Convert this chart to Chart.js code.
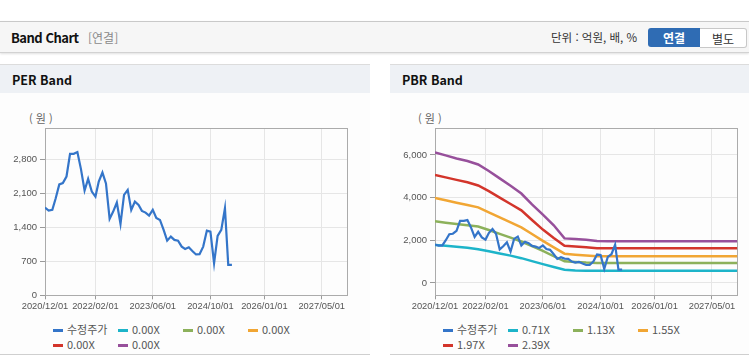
<!DOCTYPE html>
<html lang="ko">
<head>
<meta charset="UTF-8">
<title>Band Chart</title>
<script src="https://cdn.jsdelivr.net/npm/chart.js@4.4.1/dist/chart.umd.min.js"></script>
<style>
    body { margin: 0; width: 749px; height: 364px; background: #fff; position: relative; overflow: hidden;
        font-family: "Noto Sans CJK KR", "Liberation Sans", sans-serif; }
    .top { position: absolute; left: 0; top: 21px; width: 749px; height: 30px; background: #f6f6f6;
        border-top: 1px solid #c9c9c9; border-bottom: 1px solid #d2d2d2; box-shadow: 0 1px 2px rgba(0,0,0,0.12); }
    .top .title { position: absolute; left: 11px; top: 6px; font-size: 13px; font-weight: bold; color: #111; letter-spacing: -0.5px; }
    .top .sub { position: absolute; left: 88px; top: 7px; font-size: 12px; color: #8a8a8a; }
    .top .unit { position: absolute; left: 551px; top: 7px; font-size: 11.5px; color: #333; }
    .btn { position: absolute; top: 6px; height: 19px; line-height: 19px; font-size: 12px; text-align: center; }
    .btn.on { left: 648px; width: 52px; background: #2f6cb4; color: #fff; font-weight: bold; border-radius: 3px 0 0 3px; }
    .btn.off { left: 700px; width: 46px; background: #fff; color: #333; border: 1px solid #c8c8c8; border-left: 0; height: 18px; top: 6px; border-radius: 0 3px 3px 0; }
    .panel { position: absolute; top: 64px; height: 289px; background: #fdfdfd; border-top: 1px solid #dcdcdc; border-bottom: 1px solid #cfcfcf; }
    .panel .head { height: 28px; background: #eef1f5; font-size: 12.5px; font-weight: bold; color: #111; line-height: 30px; padding-left: 12px; }
    .panel canvas { position: absolute; left: 0; top: 28px; }
    .unitlbl { position: absolute; top: 45px; font-size: 11px; color: #666; }
    .legend { position: absolute; top: 257px; font-size: 11px; color: #555; }
    .legend .item { position: absolute; width: 65px; height: 15px; line-height: 15px; white-space: nowrap; }
    .legend .mk { display: inline-block; width: 10px; height: 3px; vertical-align: middle; margin-right: 4px; position: relative; top: -1px; }
</style>
</head>
<body>
<div class="top">
    <span class="title">Band Chart</span><span class="sub">[연결]</span>
    <span class="unit">단위 : 억원, 배, %</span>
    <span class="btn on">연결</span><span class="btn off">별도</span>
</div>

<div class="panel" id="perPanel" style="left:0; width:370px;">
    <div class="head">PER Band</div>
    <span class="unitlbl" style="left:29px;">( 원 )</span>
    <canvas id="perChart" width="370" height="225"></canvas>
    <div class="legend" id="perLegend" style="left:53px;"></div>
</div>

<div class="panel" id="pbrPanel" style="left:390px; width:359px;">
    <div class="head">PBR Band</div>
    <span class="unitlbl" style="left:28px;">( 원 )</span>
    <canvas id="pbrChart" width="359" height="225"></canvas>
    <div class="legend" id="pbrLegend" style="left:53px;"></div>
</div>

<script>
// x axis range and tick dates
var xStart = '2020-12-01';
var xEnd = '2027-12-01';
var xTickDates = ['2020-12-01', '2022-02-01', '2023-06-01', '2024-10-01', '2026-01-01', '2027-05-01'];

// adjusted share price (monthly)
var priceDates = [
    '2020-12-01', '2021-01-01', '2021-02-01', '2021-03-01', '2021-04-01', '2021-05-01', '2021-06-01',
    '2021-07-01', '2021-08-01', '2021-09-01', '2021-10-01', '2021-11-01', '2021-12-01',
    '2022-01-01', '2022-02-01', '2022-03-01', '2022-04-01', '2022-05-01', '2022-06-01',
    '2022-07-01', '2022-08-01', '2022-09-01', '2022-10-01', '2022-11-01', '2022-12-01',
    '2023-01-01', '2023-02-01', '2023-03-01', '2023-04-01', '2023-05-01', '2023-06-01',
    '2023-07-01', '2023-08-01', '2023-09-01', '2023-10-01', '2023-11-01', '2023-12-01',
    '2024-01-01', '2024-02-01', '2024-03-01', '2024-04-01', '2024-05-01', '2024-06-01',
    '2024-07-01', '2024-08-01', '2024-09-01', '2024-10-01', '2024-11-01', '2024-12-01',
    '2025-01-01', '2025-02-01', '2025-03-01', '2025-04-01'
];
var priceValues = [
    1804, 1742, 1756, 1990, 2280, 2306, 2442, 2909, 2909, 2944, 2600, 2154, 2395,
    2133, 2030, 2339, 2524, 2300, 1571, 1721, 1907, 1468, 2065, 2168, 1756,
    1927, 1859, 1736, 1700, 1640, 1756, 1590, 1550, 1344, 1124, 1207, 1139,
    1124, 1000, 953, 988, 910, 840, 844, 1001, 1330, 1310, 659, 1220,
    1344, 1791, 624, 624
];

// PBR bands
var bandDates = [
    '2020-12-01', '2021-03-01', '2021-06-01', '2021-09-01', '2021-12-01', '2022-03-01',
    '2022-06-01', '2022-09-01', '2022-12-01', '2023-03-01', '2023-06-01', '2023-09-01',
    '2023-12-01', '2024-03-01', '2024-06-01', '2024-09-01', '2024-12-01', '2027-12-01'
];
var band071 = [1780, 1740, 1695, 1650, 1580, 1485, 1380, 1280, 1160, 1020, 880, 750, 620, 580, 576, 576, 576, 576];
var band113 = [2885, 2825, 2760, 2700, 2640, 2480, 2300, 2120, 1940, 1730, 1500, 1250, 1010, 985, 955, 937, 937, 937];
var band155 = [3981, 3870, 3760, 3650, 3540, 3310, 3070, 2840, 2600, 2290, 1970, 1665, 1370, 1325, 1280, 1246, 1246, 1246];
var band197 = [5059, 4945, 4830, 4720, 4565, 4300, 3995, 3700, 3400, 2950, 2500, 2110, 1745, 1705, 1668, 1630, 1621, 1621];
var band239 = [6117, 5975, 5830, 5710, 5550, 5245, 4900, 4550, 4190, 3680, 3200, 2700, 2087, 2054, 2018, 1966, 1949, 1949];

var perBandLabels = ['0.00X', '0.00X', '0.00X', '0.00X', '0.00X'];
var pbrBandLabels = ['0.71X', '1.13X', '1.55X', '1.97X', '2.39X'];
var bandColors = ['#1db4c9', '#8cb15b', '#f1a634', '#d3352b', '#97509b'];
var priceColor = '#3475c9';

var perYTicks = [0, 700, 1400, 2100, 2800];
var pbrYTicks = [0, 2000, 4000, 6000];

function t(s) { return new Date(s).getTime(); }
function fmtDate(v) {
    var d = new Date(v);
    var m = d.getUTCMonth() + 1, day = d.getUTCDate();
    return d.getUTCFullYear() + '/' + (m < 10 ? '0' : '') + m + '/' + (day < 10 ? '0' : '') + day;
}
function pts(dates, vals) {
    return dates.map(function (d, i) { return { x: t(d), y: vals[i] }; });
}

var boxPlugin = {
    id: 'box',
    beforeDatasetsDraw: function (chart) {
        var a = chart.chartArea, c = chart.ctx;
        c.save();
        c.strokeStyle = '#ababab';
        c.lineWidth = 1;
        c.strokeRect(Math.round(a.left) + 0.5, Math.round(a.top) + 0.5, Math.round(a.right - a.left), Math.round(a.bottom - a.top));
        c.restore();
    }
};

function makeChart(id, datasets, yMin, yMax, yTicks, padRight) {
    return new Chart(document.getElementById(id), {
        type: 'line',
        data: { datasets: datasets },
        options: {
            responsive: false,
            animation: false,
            layout: { padding: { top: 35, right: padRight, left: 0, bottom: 0 } },
            plugins: { legend: { display: false }, tooltip: { enabled: false } },
            elements: { point: { radius: 0 }, line: { tension: 0 } },
            scales: {
                x: {
                    type: 'linear',
                    min: t(xStart), max: t(xEnd),
                    afterBuildTicks: function (s) { s.ticks = xTickDates.map(function (d) { return { value: t(d) }; }); },
                    afterFit: function (s) { s.height = 22.7; },
                    grid: { color: '#e6e6e6', tickColor: '#9a9a9a', tickLength: 4 },
                    border: { color: '#ababab' },
                    ticks: {
                        autoSkip: false, maxRotation: 0, padding: 2, color: '#555',
                        font: { family: 'Liberation Sans', size: 9.3 },
                        callback: function (v) { return fmtDate(v); }
                    }
                },
                y: {
                    min: yMin, max: yMax,
                    afterBuildTicks: function (s) { s.ticks = yTicks.map(function (v) { return { value: v }; }); },
                    afterFit: function (s) { s.width = 45; },
                    grid: { color: '#e6e6e6', tickColor: '#9a9a9a', tickLength: 5 },
                    border: { color: '#ababab' },
                    ticks: {
                        padding: 3, color: '#555',
                        font: { family: 'Liberation Sans', size: 9.5 },
                        callback: function (v) { return v.toLocaleString('en-US'); }
                    }
                }
            }
        },
        plugins: [boxPlugin]
    });
}

function bandSets(labels, bands) {
    return labels.map(function (lb, i) {
        return {
            label: lb,
            data: bands ? pts(bandDates, bands[i]) : [],
            borderColor: bandColors[i], backgroundColor: bandColors[i],
            borderWidth: 2.5, fill: false
        };
    });
}

function priceSet() {
    return { label: '수정주가', data: pts(priceDates, priceValues), borderColor: priceColor, backgroundColor: priceColor, borderWidth: 2.2, fill: false };
}

var perSets = [priceSet()].concat(bandSets(perBandLabels, null));
var pbrSets = [priceSet()].concat(bandSets(pbrBandLabels, [band071, band113, band155, band197, band239]));

makeChart('perChart', perSets, 0, 3440, perYTicks, 23);
makeChart('pbrChart', pbrSets, -580, 7260, pbrYTicks, 11.7);

function buildLegend(elId, sets) {
    var el = document.getElementById(elId);
    sets.forEach(function (ds, i) {
        var it = document.createElement('div');
        it.className = 'item';
        it.style.left = (i % 4) * 65 + 'px';
        it.style.top = Math.floor(i / 4) * 15 + 'px';
        it.innerHTML = '<span class="mk" style="background:' + ds.borderColor + '"></span>' + ds.label;
        el.appendChild(it);
    });
}
buildLegend('perLegend', perSets);
buildLegend('pbrLegend', pbrSets);
</script>
</body>
</html>
